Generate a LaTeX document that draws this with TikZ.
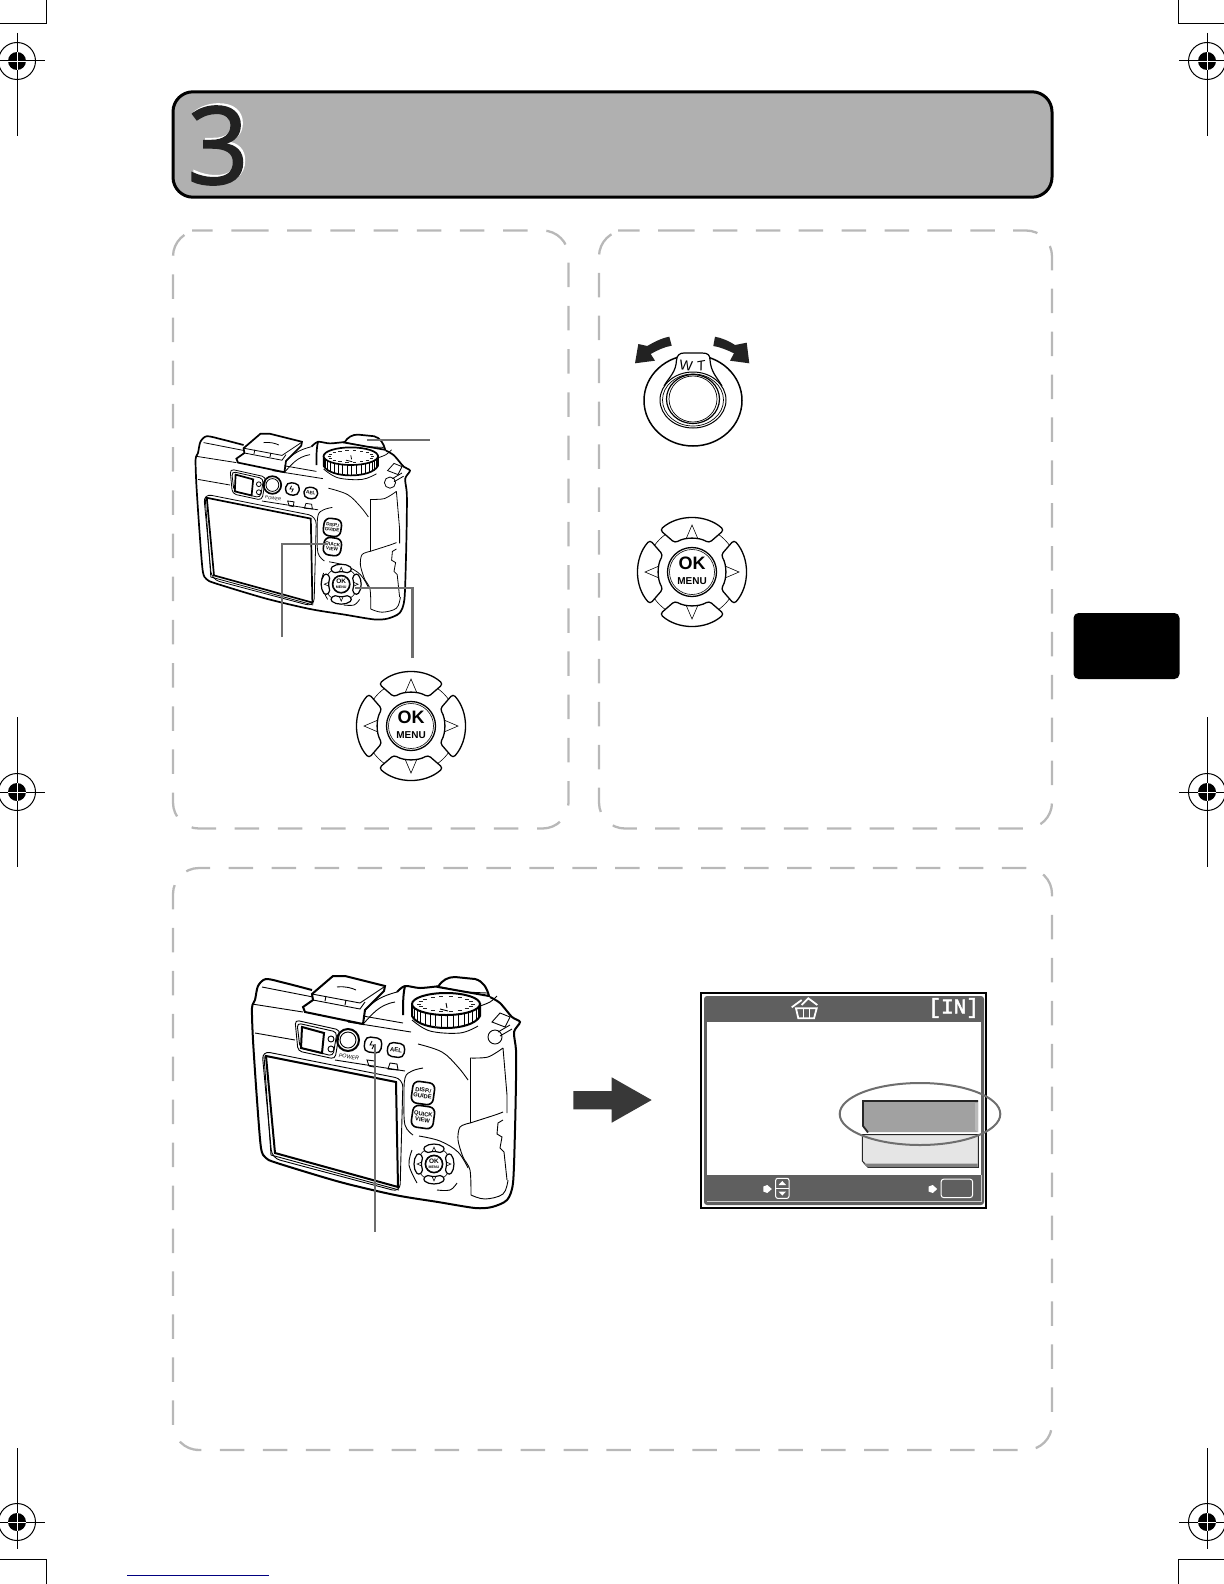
\documentclass[tikz,border=0pt]{standalone}
\usepackage{xcolor}
\usepackage{fontspec}
\setmainfont{Liberation Sans}
\newfontfamily\numfont[FakeBold=1.3]{Open Sans}
\newfontfamily\lcdfont[FakeBold=2.2]{Liberation Mono}
\usetikzlibrary{arrows.meta, calc, shapes.geometric}
\definecolor{headgray}{HTML}{B0B0B0}
\definecolor{panelgray}{HTML}{B8B8B8}
\definecolor{leadgray}{HTML}{6E6E6E}
\definecolor{lcdgray}{HTML}{5F5F5F}
\definecolor{inkdark}{HTML}{222222}
\newcommand{\tinysize}[1]{\fontsize{#1}{#1}\selectfont}
\tikzset{
  pics/regmark/.style 2 args={code={
    \draw[black, line width=.5pt] (0,0) circle[radius=18.5];
    \fill[black] (0,0) circle[radius=9];
    \draw[black, line width=.5pt] (-28,0) -- (28,0);
    \draw[black, line width=.5pt] (0,-#1) -- (0,#2);
    \draw[white, line width=.2pt] (-9,0) -- (9,0) (0,-9) -- (0,9);
  }},
  pics/dpad/.style={code={
    \draw[dpthin] (0,0) circle[radius=46];
    \foreach \r in {0,90,180,270}{
      \begin{scope}[rotate=\r]
        \draw[dpline, fill=white, rounded corners=1.6pt] (-32,-42) .. controls (-14,-58) and (14,-58) .. (32,-42) -- (17,-29) .. controls (7,-35) and (-7,-35) .. (-17,-29) -- cycle;
        \draw[dpthin] (-6,-33) -- (0,-47) -- (6,-33);
      \end{scope}
    }
    \draw[dpline, fill=white] (0,0) circle[radius=24.5];
    \draw[dpthin] (0,0) circle[radius=22.5];
    \node[transform shape, inner sep=0pt, font=\bfseries\tinysize{9}] (oktext) at (0,-9) {OK};
    \node[transform shape, inner sep=0pt, font=\bfseries\tinysize{5}] (menutext) at (0,9) {MENU};
  }},
  pics/lcdarrow/.style={code={
    \fill[white] (-4,-2.5) -- (0,-4) -- (4.5,0) -- (0,4) -- (-4,2.5) -- cycle;
  }},
  pics/cameraback/.style={code={
    % hot shoe behind the top edge
    \draw[camedge, fill=white] (303,1007) -- (313,1000) -- (312,994) -- (333,976) -- (345,976) -- (385,986) -- (384,991) -- (365,1010) -- (363,1024) -- (305,1012) -- cycle;
    \draw[camline] (312,994) -- (360,1003) -- (384,987);
    \draw[camline] (313,1000) -- (360,1009) -- (365,1002);
    \draw[camline] (325,1001) -- (326,996) (345,1005) -- (346,1000);
    \draw[camline] (337,987) .. controls (345,986) and (352,988) .. (356,990);
    \draw[camline] (365,1010) .. controls (375,1000) and (382,996) .. (397,992);
    \draw[camline] (363,1024) .. controls (372,1015) and (378,1005) .. (395,1002);
    % shutter button
    \draw[camedge, fill=white] (438,987) .. controls (442,980) and (448,977) .. (455,977) -- (475,979) .. controls (483,981) and (487,988) .. (489,996) -- cycle;
    \draw[camline] (441,987) -- (465,992) -- (487,993);
    % body outline
    \draw[camedge] plot[smooth, tension=.45] coordinates {(312,990) (285,983) (266,979) (258,986) (255,1000) (252,1008) (253,1040) (257,1100) (261,1148) (266,1158) (277,1163) (340,1182) (395,1195) (438,1202) (475,1208) (492,1207) (507,1200) (513,1183) (515,1130) (516,1080) (516,1050) (514,1032) (520,1022) (512,1017) (500,1003) (490,997)};
    \draw[camedge] plot[smooth, tension=.5] coordinates {(397,992) (405,986) (420,988) (440,986)};
    \draw[camedge] (405,986) .. controls (403,994) and (403,1005) .. (403,1015);
    \draw[camline] (262,987) -- (313,997);
    \draw[camline] (252,1004) -- (303,1012);
    \draw[camline] (255,1033) -- (295,1040);
    \draw[camline] (363,1016) -- (403,1023);
    \draw[camline] (348,1022) -- (411,1032);
    \draw[camline] plot[smooth, tension=.6] coordinates {(412,1020) (430,1031) (460,1033) (478,1026)};
    % mode dial
    \draw[camedge, fill=white] (412,1004) -- (412,1016) .. controls (420,1032) and (472,1032) .. (480,1016) -- (480,1004) -- cycle;
    \foreach \a in {8,18,...,172}{
      \draw[camline] ({446+34*cos(\a)},{1004+11*sin(\a)}) -- ++(0,12);
    }
    \draw[camedge, fill=white] (446,1004) ellipse[x radius=34, y radius=11];
    \foreach \a in {0,20,...,340}{
      \draw[camline, inkdark] ({444+27*cos(\a)},{1004+7.5*sin(\a)}) -- ++(4,0);
    }
    \draw[camline] (440,1009) -- (448,1011) (446,1003) -- (447,1008);
    \draw[camline] plot[smooth, tension=.6] coordinates {(480,1006) (490,1002) (497,996)};
    % viewfinder, power and flash
    \draw[camline, rounded corners=2pt] (295,1020) -- (340,1030) -- (335,1059) -- (298,1051) -- cycle;
    \draw[camline, rounded corners=2pt] (297,1023) -- (337,1032) -- (333,1056) -- (300,1048) -- cycle;
    \draw[camedge] (302,1027) -- (324,1033) -- (322,1053) -- (301,1048) -- cycle;
    \draw[camline] (331,1039) circle[radius=3] (331,1049) circle[radius=3];
    \draw[camedge] (348,1040) circle[radius=11];
    \draw[camline] (348,1040) circle[radius=8];
    \node[transform shape, rotate=-8, inner sep=0pt, font=\itshape\tinysize{2.7}] (powertext) at (349,1057) {POWER};
    \node[transform shape, draw, line width=.7pt, rounded corners=2.5pt, rotate=-8, minimum width=8.5pt, minimum height=7.5pt, inner sep=0pt] (flashbtn) at (373,1045) {};
    \draw[camline] (372,1041) -- (370,1045) -- (374,1045) -- (372,1049);
    \node[transform shape, draw, line width=.7pt, rounded corners=2.5pt, rotate=-8, minimum width=8.5pt, minimum height=7pt, inner sep=0pt, font=\bfseries\tinysize{3}] (aelbtn) at (396,1050) {AEL};
    \draw[camline] (335,1060) -- (405,1071);
    \draw[camline] (367,1060) -- (375,1061) -- (374,1067) -- (369,1066) -- cycle;
    \draw[camline] (390,1063) -- (397,1064) -- (398,1070) -- (388,1069) -- cycle;
    \draw[camline] plot[smooth, tension=.6] coordinates {(423,1068) (412,1071) (405,1078) (404,1100) (405,1125) (413,1135)};
    % monitor
    \draw[camline, rounded corners=4pt] (262,1051) -- (403,1079) -- (400,1192) -- (272,1158) -- cycle;
    \draw[camline] (264,1056) -- (271,1155) -- (399,1190);
    \draw[camedge] (266,1056) -- (396,1082) -- (398,1187) -- (275,1153) -- cycle;
    % buttons at the right of the monitor
    \node[transform shape, draw=black, line width=.8pt, rounded corners=3pt, rotate=-8, minimum width=11pt, minimum height=11pt, inner sep=0pt, align=center, font=\bfseries\tinysize{2.9}] (dispbtn) at (423,1093) {DISP./\\GUIDE};
    \node[transform shape, draw=black, line width=.8pt, rounded corners=3pt, rotate=-8, minimum width=11pt, minimum height=11pt, inner sep=0pt, align=center, font=\bfseries\tinysize{2.9}] (quickbtn) at (423,1117) {QUICK\\VIEW};
    \draw[camline] plot[smooth, tension=.6] coordinates {(419,1136) (440,1141) (458,1152) (468,1168)};
    \draw[camline] plot[smooth, tension=.6] coordinates {(412,1150) (409,1165) (417,1183)};
    \draw[camline] plot[smooth, tension=.6] coordinates {(437,1190) (450,1190) (457,1183)};
    \pic[scale=.36, dpline/.style={line width=.6pt}, dpthin/.style={line width=.3pt}] at (434,1164) {dpad};
    % grip and battery door
    \draw[camline] plot[smooth, tension=.6] coordinates {(418,1044) (442,1052) (458,1067) (468,1080)};
    \draw[camline] (470,1058) -- (470,1123);
    \draw[camline] plot[smooth, tension=.5] coordinates {(470,1058) (488,1057) (503,1048)};
    \draw[camline] (503,1048) -- (507,1095) -- (507,1113);
    \draw[camline] plot[smooth, tension=.5] coordinates {(470,1123) (495,1115) (503,1112)};
    \draw[camline] plot[smooth, tension=.5] coordinates {(470,1123) (460,1127) (458,1140) (463,1157) (470,1170) (471,1195)};
    \draw[camline] plot[smooth, tension=.6] coordinates {(471,1195) (485,1199) (503,1194) (508,1180)};
    \draw[camline] (503,1120) -- (498,1123) -- (497,1134) -- (502,1137) -- (500,1148) -- (504,1152) -- (507,1180);
    % strap lug
    \draw[camline, fill=white] (492,1022) -- (500,1013) -- (510,1017) -- (505,1027) -- cycle;
    \draw[camline, fill=white] (495,1037) circle[radius=7];
    \draw[camline] (498,1032) -- (510,1025) (500,1036) -- (512,1029);
  }}
}
\begin{document}
\begin{tikzpicture}[x=.5pt, y=-.5pt,
    panelline/.style={panelgray, line width=1.15pt, rounded corners=13pt},
    leader/.style={leadgray, line width=1.25pt},
    camedge/.style={black, line width=1pt},
    camline/.style={black, line width=.45pt},
    dpline/.style={black, line width=.65pt},
    dpthin/.style={black, line width=.3pt}]
  \useasboundingbox (0,0) rectangle (1224,1584);

  % printer marks
  \pic at (17,61) {regmark={28}{75}};
  \pic at (1207,61) {regmark={28}{75}};
  \pic at (17,792) {regmark={75}{75}};
  \pic at (1207,792) {regmark={75}{75}};
  \pic at (17,1522) {regmark={74}{27}};
  \pic at (1207,1522) {regmark={74}{27}};
  \draw[black, line width=.5pt] (-5,-5) rectangle (46,24);
  \draw[black, line width=.5pt] (1178,-5) rectangle (1230,24);
  \draw[black, line width=.5pt] (-5,1559) rectangle (46,1590);
  \draw[black, line width=.5pt] (1178,1559) rectangle (1230,1590);
  \draw[blue!50!black, line width=.5pt] (127,1575) -- (269,1575);

  % title bar and side tab
  \node[draw=black, line width=1.5pt, fill=headgray, rounded corners=10pt, minimum width=439.5pt, minimum height=52.7pt, inner sep=0pt] (titlebar) at (612.5,144.5) {};
  \node[white, inner sep=0pt, font=\numfont\tinysize{54}] (chapshadow) at (220,143.5) {3};
  \node[inkdark, inner sep=0pt, font=\numfont\tinysize{54}] (chapnum) at (218,145.5) {3};
  \node[fill=black, rounded corners=2.5pt, minimum width=53pt, minimum height=33pt, inner sep=0pt] (sidetab) at (1126.5,646) {};

  % dashed panels, each one path so the dashes run round the corners
  \draw[panelline, dash pattern=on 12.25pt off 9.345pt] (218,230.5) -- (568.5,230.5) -- (568.5,828.5) -- (173,828.5) -- (173,230.5) -- cycle;
  \draw[panelline, dash pattern=on 12.25pt off 9.2pt] (644,230.5) -- (1052,230.5) -- (1052,828.5) -- (599,828.5) -- (599,230.5) -- cycle;
  \draw[panelline, dash pattern=on 12.25pt off 9.225pt] (222,1450) -- (173,1450) -- (173,868) -- (1052,868) -- (1052,1450) -- cycle;

  % first panel
  \pic[shift={(-6,-347)}, scale=.8, camedge/.style={black, line width=.85pt}, camline/.style={black, line width=.4pt}] {cameraback};
  \pic at (411,726) {dpad};
  \coordinate (zoomlever) at (367,440);
  \coordinate (zoomend) at (430,440);
  \coordinate (quickbutton) at (327,544);
  \coordinate (quickend) at (282,637);
  \coordinate (padcentre) at (355,588);
  \coordinate (padend) at (412.5,658);
  \draw[leader] (zoomlever) -- (zoomend);
  \draw[leader] (quickend) |- (quickbutton);
  \draw[leader] (padend) |- (padcentre);

  % second panel
  \draw[black, line width=.75pt] (693,400.5) ellipse[x radius=49, y radius=45.5];
  \draw[black, line width=.6pt, fill=white] (664,386) .. controls (670,376) and (676,372) .. (676.5,360) .. controls (677,355) and (680,353) .. (684,353) -- (702,353) .. controls (708,353) and (710,355) .. (710,360) .. controls (711,372) and (716,376) .. (722,386);
  \draw[black, line width=.5pt, fill=white] (693,400) ellipse[x radius=33, y radius=28];
  \draw[black, line width=.35pt] (693,400) ellipse[x radius=30.5, y radius=26];
  \draw[black, line width=.6pt] (693,399) ellipse[x radius=26.5, y radius=24.5];
  \draw[black, line width=.35pt] (693,399) ellipse[x radius=24, y radius=23];
  \node[inner sep=0pt, rotate=-8, font=\tinysize{7}] (wlabel) at (686,366) {W};
  \node[inner sep=0pt, rotate=10, font=\itshape\tinysize{7}] (tlabel) at (701,366) {T};
  \fill[inkdark] (669.3,336.7) .. controls (662,338) and (654,342) .. (647.3,346) -- (638.3,344) -- (635,363.3) -- (655,360.7) -- (650.7,354) .. controls (658,350) and (664,347) .. (671.7,345.7) -- cycle;
  \fill[inkdark] (715,336.7) .. controls (722,338) and (729,341) .. (735,345) -- (746.7,342.7) -- (749.3,363.3) -- (730,360.7) -- (734,353.3) .. controls (727,350) and (720,347) .. (713.3,346) -- cycle;
  \pic at (692,572) {dpad};

  % third panel
  \pic {cameraback};
  \coordinate (flashbutton) at (375,1044);
  \coordinate (flashend) at (375,1232);
  \draw[leader] (flashbutton) -- (flashend);
  \fill[inkdark!90!white] (573.3,1091) -- (611.7,1091) -- (611.7,1077.3) -- (651.7,1100) -- (611.7,1122.7) -- (611.7,1109.3) -- (573.3,1109.3) -- cycle;

  % monitor view
  \draw[black, line width=.9pt] (700.7,992.7) rectangle (986,1207.7);
  \fill[lcdgray, rounded corners=1.5pt] (704,996) rectangle (984,1205);
  \fill[white] (707.3,1021.7) rectangle (980.7,1175);
  \draw[white!80!black, line width=.4pt] (707.3,1201) -- (981,1201) -- (981,1175);
  \draw[white, line width=.9pt] (791.7,1007.3) -- (801.7,1000) (801.7,1005) -- (808.3,998.3) -- (817.3,1005);
  \draw[white, line width=.9pt] (796,1008.3) -- (816.7,1008.3) -- (814,1018.3) -- (798.3,1018.3) -- cycle;
  \draw[white, line width=.7pt] (803.3,1008.3) -- (803.3,1018.3) (809.3,1008.3) -- (809.3,1018.3);
  \node[white, inner sep=0pt, font=\lcdfont\tinysize{10.5}] (memlabel) at (953.7,1008) {[IN]};
  \draw[black!85, line width=.5pt, fill=black!10] (862.3,1134.5) -- (862.3,1161) -- (868,1167.3) -- (978.3,1167.3) -- (978.3,1134.5) -- cycle;
  \fill[black!50] (868,1167) -- (863,1163.5) -- (977.5,1163.5) -- (977.5,1167) -- cycle;
  \fill[black!37] (863,1101) -- (978,1101) -- (978,1132) -- (868,1132) -- (863,1126) -- cycle;
  \fill[black!27] (975,1103) -- (978,1103) -- (978,1132) -- (975,1130) -- cycle;
  \draw[black!85, line width=.9pt] (868,1132.5) -- (863,1126) -- (863,1101) -- (978,1101);
  \draw[leadgray, line width=1pt] (920,1114) ellipse[x radius=80.3, y radius=31];
  \pic at (767.3,1189) {lcdarrow};
  \pic at (932.7,1189) {lcdarrow};
  \draw[white, line width=.5pt, rounded corners=1pt] (775.7,1178.3) rectangle (789,1198.3);
  \draw[white, line width=.5pt] (775.7,1188.3) -- (789,1188.3);
  \fill[white] (778.5,1185) -- (786,1185) -- (782.3,1181) -- cycle;
  \fill[white] (778.5,1191.5) -- (786,1191.5) -- (782.3,1195.5) -- cycle;
  \draw[white, line width=.5pt, rounded corners=1.5pt] (941,1179) rectangle (972.7,1197.7);
\end{tikzpicture}
\end{document}
